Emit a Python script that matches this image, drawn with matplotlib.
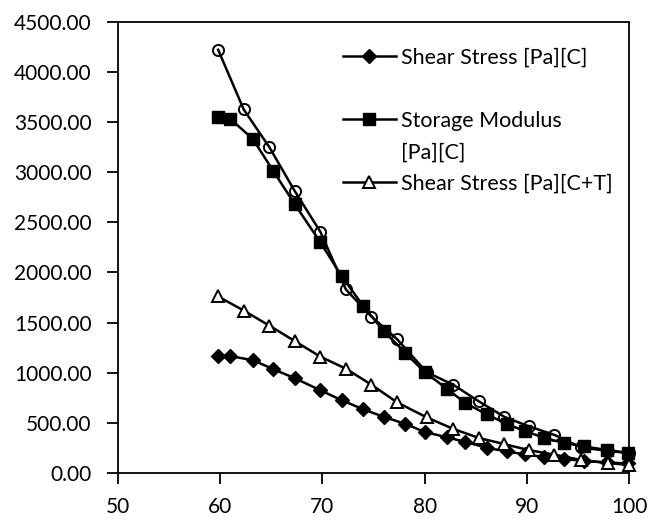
import matplotlib
matplotlib.use("Agg")
import matplotlib.pyplot as plt
from matplotlib.lines import Line2D

plt.rcParams['font.family'] = ['Lato', 'DejaVu Sans']

# temperatures for the filled series (diamonds / squares)
t_fill = [59.8, 61.0, 63.2, 65.2, 67.3, 69.8, 71.9, 74.0, 76.0, 78.1, 80.0,
          82.2, 84.0, 86.1, 88.1, 89.8, 91.7, 93.6, 95.6, 97.8, 99.9]
shear_c = [1170, 1165, 1125, 1035, 945, 825, 725, 635, 560, 490, 410,
           355, 310, 250, 215, 185, 160, 140, 120, 105, 95]
storage_c = [3550, 3530, 3330, 3010, 2680, 2300, 1960, 1665, 1415, 1200, 1005,
             840, 695, 585, 485, 420, 350, 300, 265, 230, 200]

# temperatures for the open series (triangles / circles)
t_open = [59.8, 62.3, 64.8, 67.3, 69.8, 72.3, 74.8, 77.3, 80.2, 82.8, 85.3,
          87.8, 90.2, 92.7, 95.3, 97.9, 100.0]
shear_ct = [1760, 1620, 1470, 1315, 1160, 1040, 880, 705, 555, 440, 350,
            288, 228, 183, 130, 100, 80]
storage_ct = [4220, 3625, 3250, 2810, 2405, 1830, 1560, 1335, 1005, 880, 715,
              560, 465, 380, 255, 220, 200]

labels = ["Shear Stress [Pa][C]", "Storage Modulus", "[Pa][C]",
          "Shear Stress [Pa][C+T]"]
xticks = [50, 60, 70, 80, 90, 100]
yticks = [0, 500, 1000, 1500, 2000, 2500, 3000, 3500, 4000, 4500]

fig = plt.figure(figsize=(6.61, 5.24), dpi=100)
ax = fig.add_axes([118/661, 51/524, 511/661, 451.3/524])

lw = 1.8
h1, = ax.plot(t_fill, shear_c, color='black', lw=lw, marker='D', ms=7,
              mfc='black', mec='black', clip_on=False, zorder=3)
h2, = ax.plot(t_fill, storage_c, color='black', lw=lw, marker='s', ms=8.5,
              mfc='black', mec='black', clip_on=False, zorder=3)
h3, = ax.plot(t_open, shear_ct, color='black', lw=lw, marker='^', ms=8.5,
              mfc='white', mec='black', mew=1.4, clip_on=False, zorder=3)
ax.plot(t_open, storage_ct, color='black', lw=lw, marker='o', ms=8,
        mfc='none', mec='black', mew=1.4, clip_on=False, zorder=3)

blank = Line2D([], [], linestyle='none', marker='none')
leg = ax.legend([h1, blank, h2, blank, h3],
                [labels[0], "", labels[1], labels[2], labels[3]],
                loc='upper left', bbox_to_anchor=(0.44, 0.943),
                frameon=False, fontsize=15.5, handlelength=2.45,
                handletextpad=0.25, labelspacing=0.54, borderpad=0,
                borderaxespad=0)

ax.set_xlim(50, 100)
ax.set_ylim(0, 4500)
ax.set_xticks(xticks)
ax.set_yticks(yticks)
ax.set_yticklabels(["%.2f" % v for v in yticks])
ax.tick_params(axis='both', direction='out', length=8, width=1.3,
               labelsize=15, colors='black')
ax.tick_params(axis='y', pad=11)
ax.tick_params(axis='x', pad=9)
for s in ax.spines.values():
    s.set_linewidth(1.3)

fig.savefig("out.png", dpi=100)
